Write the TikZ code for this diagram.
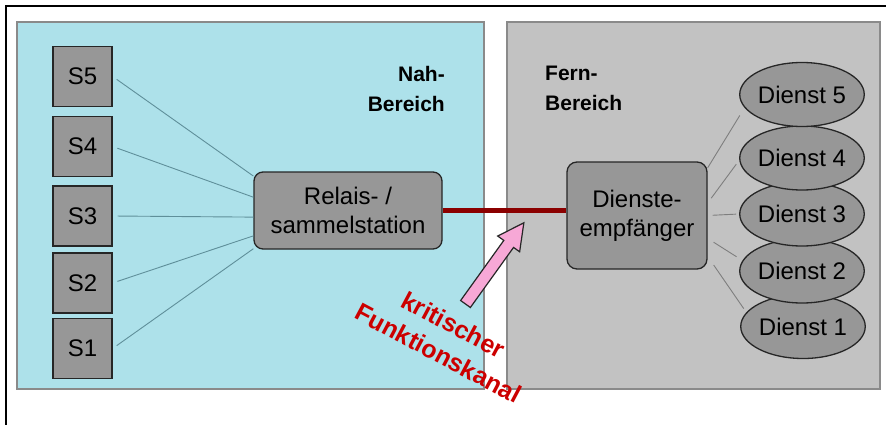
\documentclass[tikz,border=0pt]{standalone}
\usepackage{fontspec}
\setmainfont{Liberation Sans}
\usetikzlibrary{shapes.geometric}

\definecolor{nearbg}{HTML}{ADE1EA}
\definecolor{farbg}{HTML}{C2C2C2}
\definecolor{panelrule}{HTML}{8A8A8A}
\definecolor{boxfill}{HTML}{979797}
\definecolor{linkred}{HTML}{8B0000}
\definecolor{notered}{HTML}{CC0000}
\definecolor{arrowpink}{HTML}{F7A8D6}
\definecolor{nearline}{HTML}{5F8F9A}
\definecolor{farline}{HTML}{7E7E7E}

\tikzset{
  panel/.style={draw=panelrule, line width=1.2pt},
  sensor/.style={draw=black!85, fill=boxfill, line width=1.3pt,
    minimum width=59pt, minimum height=60pt, inner sep=0pt,
    font=\fontsize{24}{29}\selectfont},
  hub/.style={draw=black!85, fill=boxfill, line width=1.3pt,
    rounded corners=9pt, align=center, inner sep=0pt,
    font=\fontsize{24}{29}\selectfont},
  service/.style={ellipse, draw=black!85, fill=boxfill, line width=1.3pt,
    minimum width=124pt, minimum height=64pt, inner sep=0pt,
    font=\fontsize{24}{29}\selectfont},
  areatitle/.style={inner sep=0pt, font=\bfseries\fontsize{21}{30}\selectfont},
  nearlink/.style={draw=nearline, line width=0.9pt},
  farlink/.style={draw=farline, line width=0.9pt},
}

\begin{document}
\begin{tikzpicture}[x=1pt,y=-1pt]
  \useasboundingbox (0,0) rectangle (886,425);
  \fill[white] (0,0) rectangle (886,425);
  \draw[line width=2pt] (6,425) -- (6,6) -- (886,6);

  % the two areas
  \draw[panel, fill=nearbg] (17,22) rectangle (484,389);
  \draw[panel, fill=farbg] (507,22) rectangle (880,389);

  \node[areatitle, anchor=north east, align=right] (nahtitle) at (445,66) {Nah-\\Bereich};
  \node[areatitle, anchor=north west, align=left] (ferntitle) at (545,66) {Fern-\\Bereich};

  % sensors
  \node[sensor] (s5) at (82.5,76.5) {S5};
  \node[sensor] (s4) at (82.5,146.5) {S4};
  \node[sensor] (s3) at (82.5,216) {S3};
  \node[sensor] (s2) at (82.5,283) {S2};
  \node[sensor] (s1) at (82.5,348.5) {S1};

  % relay and receiver
  \node[hub, minimum width=188pt, minimum height=77pt] (relais) at (348,210.5) {Relais- /\\sammelstation};
  \node[hub, minimum width=140pt, minimum height=107pt, rounded corners=10pt] (dienste) at (637,215.5) {Dienste-\\empfänger};

  % services, the upper ones lie over the lower ones
  \node[service] (d1) at (803,326.5) {Dienst 1};
  \node[service] (d2) at (802,271) {Dienst 2};
  \node[service] (d3) at (802,214) {Dienst 3};
  \node[service] (d4) at (802,158) {Dienst 4};
  \node[service] (d5) at (802,94.5) {Dienst 5};

  % sensor links
  \draw[nearlink, shorten <=5pt] (s5.east) -- (relais.160.9);
  \draw[nearlink, shorten <=5pt] (s4.east) -- (relais.172.4);
  \draw[nearlink, shorten <=5pt] (s3.east) -- (relais.184.7);
  \draw[nearlink, shorten <=5pt] (s2.east) -- (relais.195.2);
  \draw[nearlink, shorten <=5pt] (s1.east) -- (relais.202);

  % service links
  \draw[farlink, shorten >=9pt] (dienste.34) -- (d5.193);
  \draw[farlink, shorten <=6pt, shorten >=5pt] (dienste.10.5) -- (d4.182.5);
  \draw[farlink, shorten <=5pt, shorten >=3pt] (dienste.east) -- (d3.west);
  \draw[farlink, shorten <=7pt, shorten >=7pt] (dienste.-18) -- (d2.170.3);
  \draw[farlink, shorten <=10.6pt, shorten >=4.5pt] (dienste.-30.2) -- (d1.166.7);

  % critical channel
  \draw[linkred, line width=5pt] (relais.east) -- (relais.east -| dienste.west);

  \begin{scope}[shift={(465.5,304)}, rotate=54.3]
    \filldraw[fill=arrowpink, draw=black!85, line width=1.2pt, line join=miter]
      (0,-6) -- (74,-6) -- (74,-13.5) -- (100,0) -- (74,13.5) -- (74,6) -- (0,6) -- cycle;
  \end{scope}

  \node[rotate=-28, align=center, text=notered, inner sep=0pt,
        font=\bfseries\fontsize{25}{32}\selectfont] (kanal) at (446,339)
        {kritischer\\Funktionskanal};
\end{tikzpicture}
\end{document}
